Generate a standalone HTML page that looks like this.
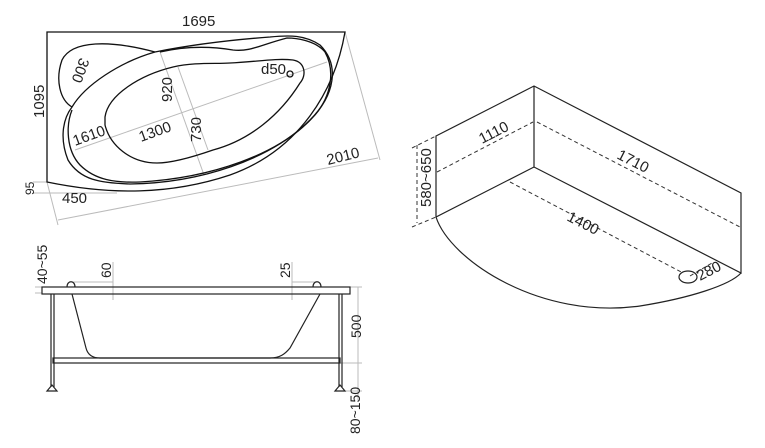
<!DOCTYPE html>
<html><head><meta charset="utf-8"><style>
html,body{margin:0;padding:0;background:#fff;}
svg{display:block;}
text{font-family:"Liberation Sans",sans-serif;font-size:15px;fill:#222;}
</style></head><body>
<svg width="765" height="448" viewBox="0 0 765 448" xmlns="http://www.w3.org/2000/svg">
<g fill="none" stroke="#bbb" stroke-width="1">
<line x1="58" y1="220" x2="378" y2="158"/>
<line x1="345" y1="32" x2="380" y2="160"/>
<line x1="47" y1="182" x2="58" y2="225"/>
<line x1="75" y1="150" x2="327" y2="62"/>
<line x1="160" y1="52" x2="204" y2="175"/>
<line x1="178" y1="67" x2="208" y2="150"/>
<line x1="33" y1="182" x2="47" y2="182"/>
<line x1="33" y1="193" x2="117" y2="193"/>
</g>
<g fill="none" stroke="#111" stroke-width="1.3">
<path d="M47,32 H345 C335,90 300,150 230,175 C170,195 110,195 47,182 Z"/>
<path d="M72,107 C60,100 55,80 62,60 C72,40 110,40 155,52"/>
<path d="M72,107 C62,120 60,140 68,160 C80,180 100,183 130,184 C200,183 270,160 310,120 C335,95 340,65 320,45 C305,35 290,35 270,37 C230,40 190,45 155,52 C120,62 85,85 72,107 Z"/>
<path d="M72,110 C66,125 66,150 80,165 C95,180 115,183 140,182 C210,178 280,155 315,115 C332,95 335,70 325,52 C315,40 295,38 287,38 C260,45 250,52 233,50 C215,47 190,45 160,52"/>
<path d="M105,117 C108,95 140,75 173,67 C195,62 215,64 230,63 C255,62 275,58 293,60 C305,62 307,75 300,83 C280,115 250,140 213,150 C190,158 170,163 157,163 C130,163 110,145 105,125 Z"/>
<circle cx="290" cy="74" r="3"/>
</g>
<text x="182" y="26">1695</text>
<text transform="translate(44,118) rotate(-90)">1095</text>
<text transform="translate(80,57) rotate(110)" >300</text>
<text transform="translate(172,102) rotate(-90)">920</text>
<text x="261" y="74">d50</text>
<text transform="translate(75,146) rotate(-20)">1610</text>
<text transform="translate(141,142) rotate(-20)">1300</text>
<text transform="translate(201,142) rotate(-90)">730</text>
<text transform="translate(328,165) rotate(-14)">2010</text>
<text transform="translate(34,195) rotate(-90)" style="font-size:12px">95</text>
<text x="62" y="203">450</text>

<g fill="none" stroke="#222" stroke-width="1.2">
<path d="M436,136 L534,86 L741,193 V273 L534,167 L436,217 Z"/>
<line x1="534" y1="86" x2="534" y2="167"/>
<path d="M436,217 C450,260 540,320 640,306 C690,298 730,285 741,273"/>
<ellipse cx="688" cy="277" rx="9" ry="6"/>
</g>
<g fill="none" stroke="#333" stroke-width="1" stroke-dasharray="4,3">
<line x1="437" y1="172" x2="533" y2="122"/>
<line x1="537" y1="122" x2="740" y2="227"/>
<line x1="510" y1="182" x2="683" y2="273"/>
<line x1="417" y1="145" x2="417" y2="223"/>
<line x1="412" y1="148" x2="436" y2="136"/>
<line x1="412" y1="227" x2="436" y2="217"/>
<line x1="690" y1="276" x2="712" y2="263"/>
</g>
<text transform="translate(482,144) rotate(-27)">1110</text>
<text transform="translate(616,158) rotate(27)">1710</text>
<text transform="translate(566,220) rotate(27)">1400</text>
<text transform="translate(431,207) rotate(-90)">580~650</text>
<text transform="translate(700,281) rotate(-27)">280</text>

<g fill="none" stroke="#bbb" stroke-width="1">
<line x1="35" y1="287" x2="42" y2="287"/><line x1="35" y1="293" x2="42" y2="293"/>
<line x1="113" y1="262" x2="113" y2="300"/><line x1="73" y1="282" x2="113" y2="282"/>
<line x1="292" y1="262" x2="292" y2="300"/><line x1="292" y1="282" x2="317" y2="282"/>
<line x1="358" y1="287" x2="358" y2="400"/><line x1="350" y1="287" x2="362" y2="287"/>
<line x1="340" y1="363" x2="362" y2="363"/><line x1="340" y1="391" x2="362" y2="391"/>
</g>
<g fill="none" stroke="#222" stroke-width="1.2">
<rect x="42" y="287" width="308" height="7"/>
<path d="M67,287 C67,280 75,280 75,287"/>
<path d="M313,287 C313,280 321,280 321,287"/>
<path d="M72,294 L86,348 C88,356 94,358 100,358 H270 C280,358 285,354 290,348 L320,294"/>
<rect x="53" y="358" width="287" height="5"/>
<line x1="51" y1="294" x2="51" y2="387"/><line x1="54" y1="294" x2="54" y2="387"/>
<line x1="339" y1="294" x2="339" y2="387"/><line x1="342" y1="294" x2="342" y2="387"/>
<path d="M47,391 L52,385 L57,391 Z"/><path d="M335,391 L340,385 L345,391 Z"/>
</g>
<text transform="translate(47,284) rotate(-90)" style="font-size:14px">40~55</text>
<text transform="translate(111,278) rotate(-90)" style="font-size:14px">60</text>
<text transform="translate(290,278) rotate(-90)" style="font-size:14px">25</text>
<text transform="translate(361,338) rotate(-90)" style="font-size:14px">500</text>
<text transform="translate(360,434) rotate(-90)" style="font-size:14px">80~150</text>
</svg>
</body></html>
